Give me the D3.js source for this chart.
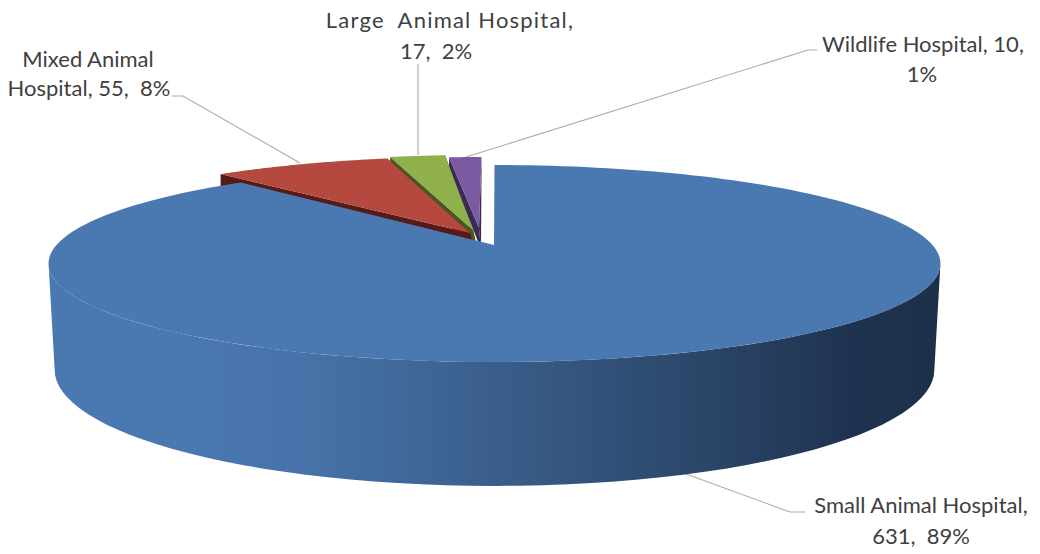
<!DOCTYPE html>
<html><head><meta charset="utf-8">
<script src="https://cdn.jsdelivr.net/npm/d3@7"></script>
<style>html,body{margin:0;background:#fff}svg{display:block}text{font-family:Lato,"Open Sans",sans-serif;font-size:22px;fill:#404040}</style>
</head><body><div id="c"></div>
<script>
const categories=["Small Animal Hospital","Mixed Animal Hospital","Large Animal Hospital","Wildlife Hospital"];
const values=[631,55,17,10];
const percents=["89%","8%","2%","1%"];
const topColors=["#4a78b1","#b5483f","#8fb04a","#7a5aa0"];
const wallColors=["#1e3048","#561a18","#46591f","#3b2a55"];
const offsets=[[0,0],[-20,-8.5],[-17,-10],[-13,-8]];
const apexExtra=[[0,0],[-4,-3.5],[-4,-5],[-2,-9]];
const labelLines=[["Small Animal Hospital,","631,  89%"],["Mixed Animal","Hospital, 55,  8%"],["Large  Animal Hospital,","17,  2%"],["Wildlife Hospital, 10,","1%"]];
const labelPos=[[[921,513],[921,544]],[[88,67],[89,96]],[[450,28],[436,59]],[[923,52],[922,82]]];
const labelSpacing=[0,0,1.2,0];
const leaders=[[[805,512],[790,512],[686,474]],[[172,96],[183,96],[300,163]],[[418,64],[418,155]],[[817,50],[808,50],[466,157]]];

const W=1040,H=554;
const svg=d3.select("#c").append("svg").attr("width",W).attr("height",H);
const k=0.188;
const proj=(a,x0,y0,ax,b)=>{const u=Math.sin(a),v=Math.cos(a),w=1+k*v;return [x0+ax*u/w,y0-b*v/w];};
const topP=a=>proj(a,494.5,245,438,95);
const botP=a=>proj(a,494.5,348,432,112);
const arcPts=(f,a0,a1)=>d3.range(0,61).map(i=>f(a0+(a1-a0)*i/60));
const line=d3.line();
const arcs=d3.pie().sort(null)(values);

const defs=svg.append("defs");
const g=defs.append("linearGradient").attr("id","side").attr("gradientUnits","userSpaceOnUse").attr("x1",48).attr("x2",941).attr("y1",0).attr("y2",0);
[[0,"#4a78b1"],[0.15,"#4a78b1"],[0.3,"#4672a8"],[0.5,"#3a5e8b"],[0.75,"#2a4466"],[0.9,"#1f3350"],[1,"#1d3049"]].forEach(s=>g.append("stop").attr("offset",s[0]).attr("stop-color",s[1]));

// leader lines
const leaderG=svg.append("g");
leaders.forEach(l=>leaderG.append("path").attr("d",line(l)).attr("fill","none").attr("stroke","#ababab").attr("stroke-width",1.1));

// exploded slices, back to front
[3,2,1].forEach(i=>{
  const d=arcs[i],[dx,dy]=offsets[i],[ex,ey]=apexExtra[i];
  const s=svg.append("g").attr("transform",`translate(${dx},${dy})`);
  const top=[[494+ex,245+ey],...arcPts(topP,d.startAngle,d.endAngle)];
  const off=[[494,245+12],...arcPts(p=>{const q=topP(p);return [q[0],q[1]+12];},d.startAngle,d.endAngle)];
  s.append("path").attr("d",line([top[0],top[1],off[1],off[0]])+"Z").attr("fill",wallColors[i]);
  s.append("path").attr("d",line([top[0],top[top.length-1],off[off.length-1],off[0]])+"Z").attr("fill",wallColors[i]);
  s.append("path").attr("d",line(top)+"Z").attr("fill",topColors[i]);
});

// main slice
const d0=arcs[0];
const a1=100.8*Math.PI/180,a2=259.2*Math.PI/180;
svg.append("path").attr("d",line([...arcPts(topP,a1,a2),...arcPts(botP,a2,a1)])+"Z").attr("fill","url(#side)");
svg.append("path").attr("d",line([[494,245],...d3.range(0,181).map(i=>topP(d0.startAngle+(d0.endAngle-d0.startAngle)*i/180))])+"Z").attr("fill",topColors[0]);

// labels
categories.forEach((c,i)=>{
  const t=svg.append("text").attr("text-anchor","middle").style("white-space","pre");
  labelLines[i].forEach((s,j)=>t.append("tspan").attr("x",labelPos[i][j][0]).attr("y",labelPos[i][j][1]).style("letter-spacing",j===0?labelSpacing[i]+"px":"0").text(s));
});
</script></body></html>
